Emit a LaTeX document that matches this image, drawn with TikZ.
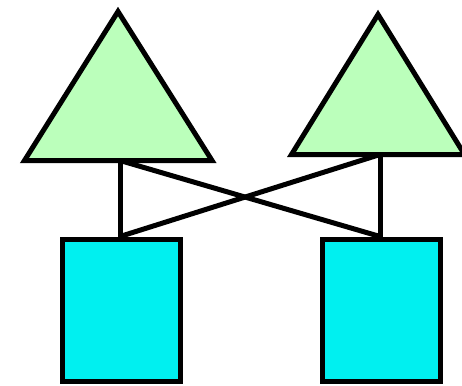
\documentclass[tikz,border=0pt]{standalone}
\usepackage{pgfplots}
\definecolor{trigreen}{RGB}{187,255,187}
\definecolor{boxcyan}{RGB}{0,240,240}

\begin{document}
\begin{tikzpicture}[x=1pt, y=-1pt, line width=5pt, tri/.style={draw=black, fill=trigreen}, box/.style={draw=black, fill=boxcyan, inner sep=0pt, minimum width=118pt, minimum height=142pt}]
    \useasboundingbox (0,0) rectangle (462,385);
    \clip (0,0) rectangle (462,385);

    \draw[tri] (118,11.5) -- (212,160.5) -- (24.5,160.5) -- cycle;
    \draw[tri] (378,14.5) -- (464.5,154.5) -- (291.5,154.5) -- cycle;
    \coordinate (t1) at (120,160.5);
    \coordinate (t2) at (380,154.5);

    \node[box] (b1) at (121.5,310) {};
    \node[box] (b2) at (381.5,310) {};

    \path
        (t1) edge (t1 |- b1.north)
        (t2) edge (t2 |- b2.north)
        (t1) edge (t2 |- b2.north)
        (t2) edge (t1 |- b1.north)
        ;
    \end{tikzpicture}
\end{document}
